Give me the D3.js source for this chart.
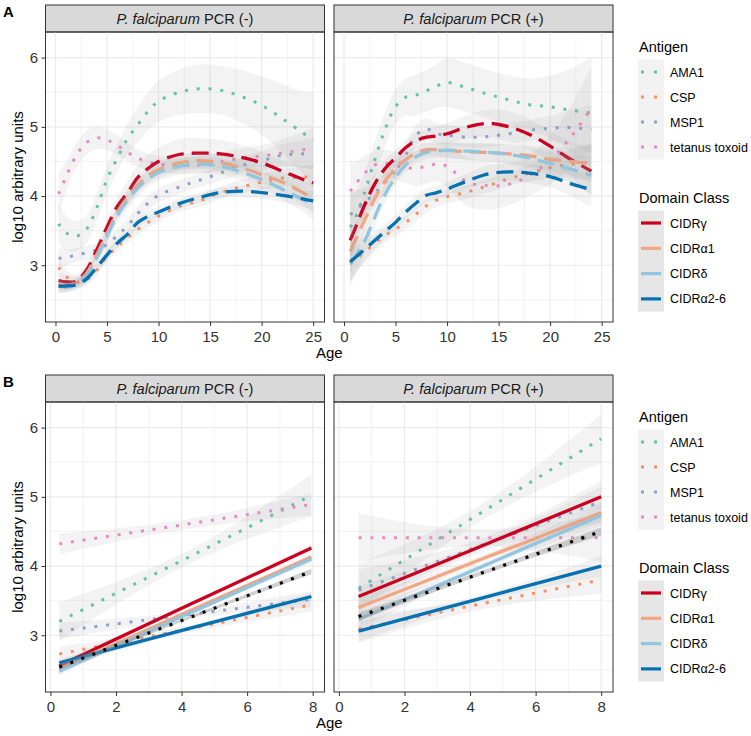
<!DOCTYPE html>
<html>
<head>
<meta charset="utf-8">
<script src="https://cdn.jsdelivr.net/npm/d3@7"></script>
<style>
  body { margin: 0; background: #fff; }
  svg { font-family: "Liberation Sans", Arial, sans-serif; }
</style>
</head>
<body>
<div id="chart-area"></div>
<script>
// ---- categories ----
var antigens = ['AMA1', 'CSP', 'MSP1', 'tetanus toxoid'];
var antigenColors = ['#66c2a5', '#fc8d62', '#8da0cb', '#e78ac3'];
var domains = ['CIDRγ', 'CIDRα1', 'CIDRδ', 'CIDRα2-6'];
var domainColors = ['#ca0020', '#f4a582', '#92c5de', '#0571b0'];
var overallColor = '#000000';
var facets = ['PCR (-)', 'PCR (+)'];

// ---- tick labels ----
var yTicks = [3, 4, 5, 6];
var yMinor = [2.5, 3.5, 4.5, 5.5];
var xTicksA = [0, 5, 10, 15, 20, 25];
var xMinorA = [2.5, 7.5, 12.5, 17.5, 22.5];
var xTicksB = [0, 2, 4, 6, 8];
var xMinorB = [1, 3, 5, 7];

// ---- panel A: loess fits, series order AMA1, CSP, MSP1, tetanus toxoid, CIDRγ, CIDRα1, CIDRδ, CIDRα2-6 ----
var agesANeg = [0.3, 1, 2, 3, 4, 5, 6, 7, 8, 9, 10, 12, 14, 16, 18, 20, 22, 24, 25];
var aNegValues = [
  [3.6, 3.47, 3.42, 3.52, 3.83, 4.24, 4.55, 4.83, 5.03, 5.23, 5.37, 5.5, 5.55, 5.53, 5.44, 5.31, 5.12, 4.91, 4.8],
  [2.97, 2.84, 2.76, 2.79, 2.93, 3.13, 3.27, 3.4, 3.52, 3.62, 3.71, 3.85, 3.93, 4.05, 4.13, 4.2, 4.26, 4.27, 4.29],
  [3.1, 3.11, 3.15, 3.18, 3.22, 3.3, 3.43, 3.57, 3.75, 3.9, 4.01, 4.13, 4.23, 4.33, 4.44, 4.51, 4.59, 4.61, 4.62],
  [4.03, 4.27, 4.58, 4.77, 4.84, 4.81, 4.73, 4.63, 4.55, 4.49, 4.46, 4.44, 4.45, 4.49, 4.55, 4.58, 4.62, 4.67, 4.68],
  [2.78, 2.76, 2.77, 2.93, 3.22, 3.55, 3.85, 4.05, 4.27, 4.4, 4.5, 4.6, 4.62, 4.61, 4.56, 4.48, 4.36, 4.24, 4.19],
  [2.72, 2.7, 2.75, 2.88, 3.15, 3.46, 3.76, 3.98, 4.16, 4.3, 4.38, 4.48, 4.51, 4.48, 4.41, 4.31, 4.2, 4.05, 3.96],
  [2.7, 2.68, 2.72, 2.85, 3.1, 3.42, 3.72, 3.94, 4.12, 4.25, 4.34, 4.43, 4.46, 4.43, 4.35, 4.24, 4.1, 3.95, 3.87],
  [2.7, 2.7, 2.72, 2.8, 2.97, 3.15, 3.32, 3.45, 3.62, 3.71, 3.77, 3.89, 3.98, 4.05, 4.07, 4.05, 4.01, 3.96, 3.93]
];
var aNegSE = [
  [0.3, 0.25, 0.22, 0.2, 0.2, 0.2, 0.2, 0.22, 0.25, 0.27, 0.3, 0.33, 0.35, 0.35, 0.38, 0.42, 0.5, 0.6, 0.7],
  [0.12, 0.1, 0.08, 0.08, 0.08, 0.08, 0.08, 0.08, 0.08, 0.08, 0.08, 0.08, 0.09, 0.09, 0.1, 0.11, 0.13, 0.16, 0.18],
  [0.15, 0.12, 0.1, 0.1, 0.1, 0.1, 0.1, 0.1, 0.1, 0.1, 0.1, 0.1, 0.1, 0.11, 0.12, 0.14, 0.16, 0.2, 0.22],
  [0.3, 0.22, 0.18, 0.17, 0.16, 0.15, 0.14, 0.13, 0.13, 0.12, 0.12, 0.12, 0.13, 0.13, 0.14, 0.16, 0.2, 0.26, 0.3],
  [0.12, 0.1, 0.09, 0.09, 0.1, 0.12, 0.14, 0.16, 0.18, 0.2, 0.2, 0.22, 0.22, 0.2, 0.18, 0.16, 0.16, 0.2, 0.24],
  [0.1, 0.08, 0.07, 0.08, 0.09, 0.1, 0.11, 0.12, 0.12, 0.12, 0.12, 0.12, 0.12, 0.12, 0.12, 0.13, 0.15, 0.18, 0.22],
  [0.1, 0.08, 0.07, 0.08, 0.09, 0.1, 0.11, 0.12, 0.12, 0.12, 0.12, 0.12, 0.12, 0.12, 0.12, 0.13, 0.15, 0.18, 0.22],
  [0.1, 0.08, 0.07, 0.07, 0.07, 0.07, 0.07, 0.07, 0.07, 0.07, 0.07, 0.07, 0.07, 0.07, 0.08, 0.09, 0.1, 0.12, 0.14]
];

var agesAPos = [0.6, 1, 2, 3, 4, 5, 6, 7, 8, 9, 10, 12, 14, 16, 18, 20, 22, 24];
var aPosValues = [
  [3.55, 3.65, 4.05, 4.53, 4.97, 5.29, 5.43, 5.46, 5.52, 5.59, 5.64, 5.56, 5.47, 5.39, 5.32, 5.29, 5.24, 5.2],
  [3.02, 3.07, 3.19, 3.32, 3.43, 3.52, 3.62, 3.74, 3.86, 3.94, 3.99, 4.06, 4.15, 4.25, 4.33, 4.41, 4.46, 4.49],
  [3.73, 3.78, 3.91, 4.04, 4.2, 4.38, 4.6, 4.88, 4.97, 4.9, 4.88, 4.85, 4.86, 4.9, 4.95, 4.98, 4.99, 4.96],
  [4.07, 4.15, 4.33, 4.45, 4.47, 4.44, 4.41, 4.4, 4.43, 4.46, 4.43, 4.2, 4.15, 4.17, 4.3, 4.52, 4.85, 5.27],
  [3.36, 3.5, 3.87, 4.18, 4.4, 4.55, 4.7, 4.8, 4.85, 4.87, 4.9, 5.0, 5.05, 5.0, 4.89, 4.72, 4.53, 4.36],
  [3.2, 3.33, 3.65, 3.97, 4.22, 4.4, 4.53, 4.62, 4.67, 4.67, 4.66, 4.64, 4.63, 4.61, 4.58, 4.53, 4.5, 4.47],
  [3.03, 3.1, 3.35, 3.7, 4.03, 4.27, 4.45, 4.57, 4.63, 4.65, 4.66, 4.65, 4.63, 4.6, 4.55, 4.47, 4.39, 4.3],
  [3.05, 3.1, 3.23, 3.36, 3.49, 3.62, 3.77, 3.9, 4.01, 4.05, 4.1, 4.22, 4.32, 4.35, 4.33, 4.28, 4.18, 4.09]
];
var aPosSE = [
  [0.5, 0.4, 0.3, 0.27, 0.25, 0.25, 0.27, 0.3, 0.3, 0.32, 0.35, 0.35, 0.35, 0.35, 0.38, 0.45, 0.6, 0.8],
  [0.25, 0.2, 0.15, 0.12, 0.1, 0.1, 0.1, 0.1, 0.1, 0.1, 0.1, 0.1, 0.1, 0.1, 0.12, 0.15, 0.2, 0.27],
  [0.4, 0.3, 0.22, 0.18, 0.15, 0.15, 0.15, 0.15, 0.15, 0.15, 0.15, 0.15, 0.15, 0.15, 0.15, 0.18, 0.25, 0.35],
  [0.45, 0.35, 0.25, 0.2, 0.2, 0.2, 0.22, 0.25, 0.25, 0.25, 0.3, 0.35, 0.35, 0.3, 0.3, 0.35, 0.45, 0.6],
  [0.4, 0.3, 0.2, 0.15, 0.13, 0.12, 0.12, 0.12, 0.12, 0.13, 0.15, 0.17, 0.2, 0.22, 0.22, 0.22, 0.25, 0.35],
  [0.35, 0.27, 0.18, 0.14, 0.12, 0.11, 0.1, 0.1, 0.1, 0.1, 0.11, 0.12, 0.13, 0.14, 0.15, 0.17, 0.2, 0.28],
  [0.35, 0.27, 0.18, 0.14, 0.12, 0.11, 0.1, 0.1, 0.1, 0.1, 0.11, 0.12, 0.13, 0.14, 0.15, 0.17, 0.2, 0.28],
  [0.3, 0.25, 0.17, 0.13, 0.11, 0.1, 0.1, 0.1, 0.1, 0.1, 0.1, 0.11, 0.12, 0.13, 0.14, 0.15, 0.18, 0.25]
];

// ---- panel B: linear fits (start, middle, end), same order plus overall fit ----
var agesBNeg = [0.27, 4.1, 7.96];
var bNegValues = [
  [3.2, 4.1, 5.02], [2.73, 3.08, 3.44], [3.06, 3.29, 3.52], [4.32, 4.6, 4.89],
  [2.56, 3.41, 4.26], [2.51, 3.32, 4.13], [2.48, 3.29, 4.1], [2.6, 3.08, 3.56],
  [2.54, 3.23, 3.92]
];
var bNegSE = [
  [0.28, 0.1, 0.3], [0.1, 0.05, 0.1], [0.12, 0.05, 0.12], [0.15, 0.07, 0.16],
  [0.06, 0.03, 0.06], [0.06, 0.03, 0.06], [0.06, 0.03, 0.06], [0.06, 0.03, 0.06],
  [0.04, 0.02, 0.04]
];
var agesBPos = [0.6, 4.3, 8];
var bPosValues = [
  [3.68, 4.76, 5.84], [3.09, 3.45, 3.8], [3.65, 4.29, 4.93], [4.41, 4.41, 4.41],
  [3.56, 4.28, 5.0], [3.4, 4.09, 4.77], [3.23, 3.98, 4.73], [3.06, 3.53, 4.0],
  [3.27, 3.89, 4.5]
];
var bPosSE = [
  [0.35, 0.12, 0.35], [0.2, 0.08, 0.2], [0.3, 0.1, 0.3], [0.35, 0.12, 0.35],
  [0.15, 0.05, 0.15], [0.15, 0.05, 0.15], [0.15, 0.05, 0.15], [0.15, 0.05, 0.15],
  [0.06, 0.03, 0.06]
];

// ---- layout ----
var width = 751, height = 736;
var panelW = 279, panelH = 290;
var panelX = [45.5, 334];

var svg = d3.select('#chart-area').append('svg')
  .attr('width', width)
  .attr('height', height);

var y = d3.scaleLinear().domain([2.18, 6.37]).range([panelH, 0]);

var rows = [
  { tag: 'A', top: 32, xDomain: [-0.97, 26.1], xTicks: xTicksA, xMinor: xMinorA,
    sets: [[agesANeg, aNegValues, aNegSE], [agesAPos, aPosValues, aPosSE]],
    smooth: true, legendTop: 52 },
  { tag: 'B', top: 402, xDomain: [-0.15, 8.36], xTicks: xTicksB, xMinor: xMinorB,
    sets: [[agesBNeg, bNegValues, bNegSE], [agesBPos, bPosValues, bPosSE]],
    smooth: false, legendTop: 422 }
];

function seriesStyle(i, smooth) {
  if (i < 4) return { color: antigenColors[i], width: 3, dash: '3 8.8' };
  if (i < 8) return { color: domainColors[i - 4], width: 3.3, dash: smooth ? '17 8' : null };
  return { color: overallColor, width: 3.2, dash: '3 8.8' };
}

rows.forEach(function(row, r) {
  var x = d3.scaleLinear().domain(row.xDomain).range([0, panelW]);

  // row tag
  svg.append('text')
    .attr('x', 3).attr('y', row.top - 15)
    .attr('font-size', '15px').attr('font-weight', 'bold')
    .text(row.tag);

  facets.forEach(function(facet, p) {
    var g = svg.append('g')
      .attr('transform', 'translate(' + panelX[p] + ',' + row.top + ')');

    // strip
    g.append('rect')
      .attr('x', 0).attr('y', -27).attr('width', panelW).attr('height', 27)
      .attr('fill', '#d9d9d9').attr('stroke', '#333').attr('stroke-width', 1);
    var st = g.append('text')
      .attr('x', panelW / 2).attr('y', -8.5)
      .attr('text-anchor', 'middle')
      .attr('font-size', '14.6px').attr('fill', '#1a1a1a');
    st.append('tspan').attr('font-style', 'italic').text('P. falciparum');
    st.append('tspan').text(' ' + facet);

    // grid
    var grid = g.append('g');
    row.xMinor.forEach(function(v) {
      grid.append('line').attr('x1', x(v)).attr('x2', x(v)).attr('y1', 0).attr('y2', panelH)
        .attr('stroke', '#ebebeb').attr('stroke-width', 0.6);
    });
    yMinor.forEach(function(v) {
      grid.append('line').attr('x1', 0).attr('x2', panelW).attr('y1', y(v)).attr('y2', y(v))
        .attr('stroke', '#ebebeb').attr('stroke-width', 0.6);
    });
    row.xTicks.forEach(function(v) {
      grid.append('line').attr('x1', x(v)).attr('x2', x(v)).attr('y1', 0).attr('y2', panelH)
        .attr('stroke', '#ebebeb').attr('stroke-width', 1.2);
    });
    yTicks.forEach(function(v) {
      grid.append('line').attr('x1', 0).attr('x2', panelW).attr('y1', y(v)).attr('y2', y(v))
        .attr('stroke', '#ebebeb').attr('stroke-width', 1.2);
    });

    // clip
    var clipId = 'clip-' + r + '-' + p;
    g.append('clipPath').attr('id', clipId)
      .append('rect').attr('width', panelW).attr('height', panelH);
    var plot = g.append('g').attr('clip-path', 'url(#' + clipId + ')');

    var ages = row.sets[p][0], values = row.sets[p][1], se = row.sets[p][2];
    var curve = row.smooth ? d3.curveCatmullRom : d3.curveLinear;

    var area = d3.area()
      .x(function(d) { return x(d.age); })
      .y0(function(d) { return y(d.v - d.se); })
      .y1(function(d) { return y(d.v + d.se); })
      .curve(row.smooth ? d3.curveCatmullRom : d3.curveNatural);
    var line = d3.line()
      .x(function(d) { return x(d.age); })
      .y(function(d) { return y(d.v); })
      .curve(curve);

    values.forEach(function(vals, i) {
      var pts = ages.map(function(a, k) { return { age: a, v: vals[k], se: se[i][k] }; });
      var s = seriesStyle(i, row.smooth);
      plot.append('path').datum(pts)
        .attr('d', area)
        .attr('fill', '#999')
        .attr('opacity', i === 8 ? 0.45 : 0.12);
      plot.append('path').datum(pts)
        .attr('d', line)
        .attr('fill', 'none')
        .attr('stroke', s.color)
        .attr('stroke-width', s.width)
        .attr('stroke-dasharray', s.dash)
        .attr('stroke-linecap', 'butt');
    });

    // border
    g.append('rect').attr('width', panelW).attr('height', panelH)
      .attr('fill', 'none').attr('stroke', '#333').attr('stroke-width', 1);

    // x axis
    var xAxis = g.append('g')
      .attr('transform', 'translate(0,' + panelH + ')')
      .call(d3.axisBottom(x).tickValues(row.xTicks).tickFormat(d3.format('d'))
        .tickSize(4).tickPadding(5).tickSizeOuter(0));
    xAxis.select('.domain').remove();
    xAxis.selectAll('line').attr('stroke', '#333');
    xAxis.selectAll('text').attr('font-size', '15px').attr('fill', '#333')
      .attr('font-family', '"Liberation Sans", Arial, sans-serif');

    if (p === 0) {
      var yAxis = g.append('g')
        .call(d3.axisLeft(y).tickValues(yTicks).tickFormat(d3.format('d'))
          .tickSize(4).tickPadding(3.5).tickSizeOuter(0));
      yAxis.select('.domain').remove();
      yAxis.selectAll('line').attr('stroke', '#333');
      yAxis.selectAll('text').attr('font-size', '15px').attr('fill', '#333')
        .attr('font-family', '"Liberation Sans", Arial, sans-serif');
    }
  });

  // axis titles
  svg.append('text')
    .attr('transform', 'translate(23,' + (row.top + panelH / 2) + ') rotate(-90)')
    .attr('text-anchor', 'middle')
    .attr('font-size', '15px')
    .text('log10 arbitrary units');
  svg.append('text')
    .attr('x', (panelX[0] + panelX[1] + panelW) / 2)
    .attr('y', row.top + panelH + 36)
    .attr('text-anchor', 'middle')
    .attr('font-size', '15px')
    .text('Age');

  // legends
  var lg = svg.append('g').attr('transform', 'translate(638,' + row.legendTop + ')');
  lg.append('text').attr('x', 1).attr('y', 0).attr('font-size', '14.5px').text('Antigen');
  lg.append('rect').attr('x', 0).attr('y', 7.5).attr('width', 26).attr('height', 100)
    .attr('fill', '#f2f2f2');
  antigens.forEach(function(a, i) {
    var cy = 20 + i * 25;
    lg.append('line').attr('x1', 3).attr('x2', 23).attr('y1', cy).attr('y2', cy)
      .attr('stroke', antigenColors[i]).attr('stroke-width', 3).attr('stroke-dasharray', '3 10');
    lg.append('text').attr('x', 32).attr('y', cy + 4.5).attr('font-size', '12.5px').text(a);
  });

  lg.append('text').attr('x', 1).attr('y', 151).attr('font-size', '14.5px').text('Domain Class');
  lg.append('rect').attr('x', 0).attr('y', 158.5).attr('width', 26).attr('height', 101)
    .attr('fill', '#e6e6e6');
  domains.forEach(function(dname, i) {
    var cy = 171 + i * 25.3;
    lg.append('line').attr('x1', 3).attr('x2', 23).attr('y1', cy).attr('y2', cy)
      .attr('stroke', domainColors[i]).attr('stroke-width', 3.2);
    lg.append('text').attr('x', 32).attr('y', cy + 4.5).attr('font-size', '12.5px').text(dname);
  });
});
</script>
</body>
</html>
